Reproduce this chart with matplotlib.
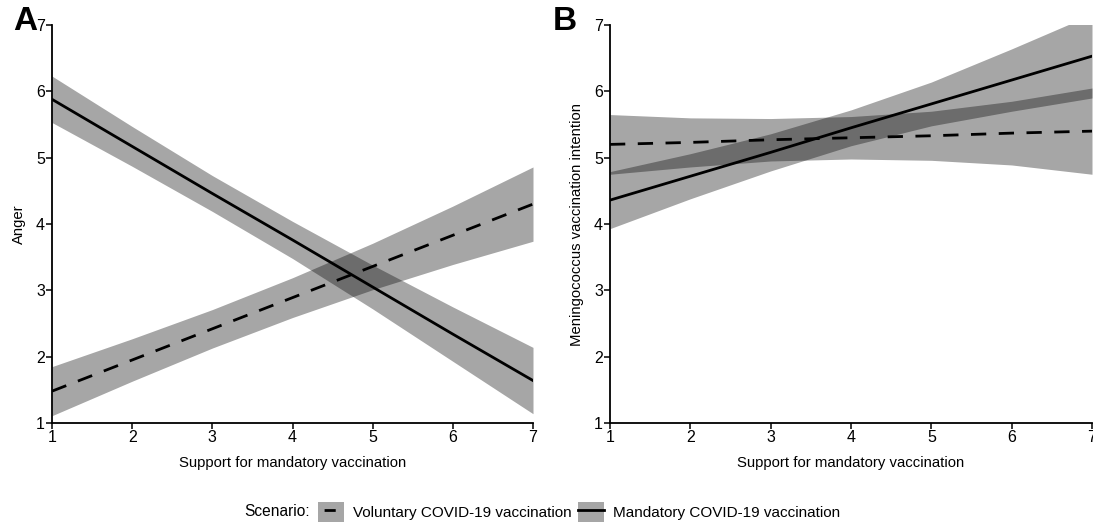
import numpy as np
import matplotlib.pyplot as plt
from matplotlib.patches import Patch
from matplotlib.lines import Line2D

plt.rcParams['font.family'] = ['Liberation Sans', 'DejaVu Sans']

support = [1, 2, 3, 4, 5, 6, 7]

# Panel A: anger
anger_mand = [5.88, 5.17, 4.46, 3.76, 3.05, 2.34, 1.64]
anger_mand_hi = [6.23, 5.47, 4.73, 4.04, 3.38, 2.75, 2.14]
anger_mand_lo = [5.53, 4.87, 4.19, 3.48, 2.72, 1.93, 1.14]
anger_vol = [1.48, 1.95, 2.42, 2.89, 3.36, 3.83, 4.30]
anger_vol_hi = [1.85, 2.27, 2.71, 3.19, 3.71, 4.27, 4.86]
anger_vol_lo = [1.11, 1.63, 2.13, 2.59, 3.01, 3.39, 3.74]

# Panel B: meningococcus vaccination intention
int_mand = [4.36, 4.72, 5.08, 5.45, 5.81, 6.17, 6.53]
int_mand_hi = [4.79, 5.06, 5.36, 5.72, 6.14, 6.64, 7.16]
int_mand_lo = [3.93, 4.38, 4.80, 5.18, 5.48, 5.70, 5.90]
int_vol = [5.20, 5.23, 5.27, 5.30, 5.33, 5.37, 5.40]
int_vol_hi = [5.65, 5.60, 5.59, 5.62, 5.70, 5.85, 6.05]
int_vol_lo = [4.75, 4.86, 4.95, 4.98, 4.96, 4.89, 4.75]

ticks = [1, 2, 3, 4, 5, 6, 7]
dash = (0, (5.5, 4.5))
band = dict(color='black', alpha=0.35, linewidth=0)

fig = plt.figure(figsize=(10.93, 5.23), dpi=100)
axA = fig.add_axes([52 / 1093, 100 / 523, 481 / 1093, 398 / 523])
axB = fig.add_axes([610 / 1093, 100 / 523, 482 / 1093, 398 / 523])

panels = [
    (axA, anger_vol, anger_vol_lo, anger_vol_hi, anger_mand, anger_mand_lo, anger_mand_hi, 'Anger'),
    (axB, int_vol, int_vol_lo, int_vol_hi, int_mand, int_mand_lo, int_mand_hi,
     'Meningococcus vaccination intention'),
]

for ax, v, vlo, vhi, m, mlo, mhi, ylab in panels:
    ax.fill_between(support, vlo, vhi, **band)
    ax.fill_between(support, mlo, mhi, **band)
    ax.plot(support, v, color='black', lw=2.0, linestyle=dash)
    ax.plot(support, m, color='black', lw=2.0)
    ax.set_xlim(1, 7)
    ax.set_ylim(1, 7)
    ax.set_xticks(ticks)
    ax.set_yticks(ticks)
    for s in ['top', 'right']:
        ax.spines[s].set_visible(False)
    for s in ['left', 'bottom']:
        ax.spines[s].set_linewidth(1.3)
    ax.tick_params(direction='out', length=4, width=1.1, labelsize=11.5, pad=1)
    ax.set_xlabel('Support for mandatory vaccination', fontsize=10.7, labelpad=8)
    ax.set_ylabel(ylab, fontsize=10.7, labelpad=7)

fig.text(25 / 1093, 1 - 21 / 523, 'A', fontsize=24, fontweight='bold', ha='center', va='center')
fig.text(565 / 1093, 1 - 21 / 523, 'B', fontsize=24, fontweight='bold', ha='center', va='center')

h_vol = (Patch(facecolor='black', alpha=0.35),
         Line2D([], [], color='black', lw=2.0, linestyle=(11.8, (4, 10))))
h_mand = (Patch(facecolor='black', alpha=0.35), Line2D([], [], color='black', lw=2.0))
fig.text(310 / 1093, 1 - 512 / 523, 'Scenario:', fontsize=11.2, ha='right', va='center')
fig.legend([h_vol, h_mand],
           ['Voluntary COVID-19 vaccination', 'Mandatory COVID-19 vaccination'],
           loc='center left', bbox_to_anchor=(318 / 1093, 1 - 512 / 523), ncol=2,
           frameon=False, fontsize=11, handlelength=1.7, handleheight=1.6,
           handletextpad=0.6, columnspacing=0.4, borderpad=0, borderaxespad=0)

fig.savefig('out.png', dpi=100)
